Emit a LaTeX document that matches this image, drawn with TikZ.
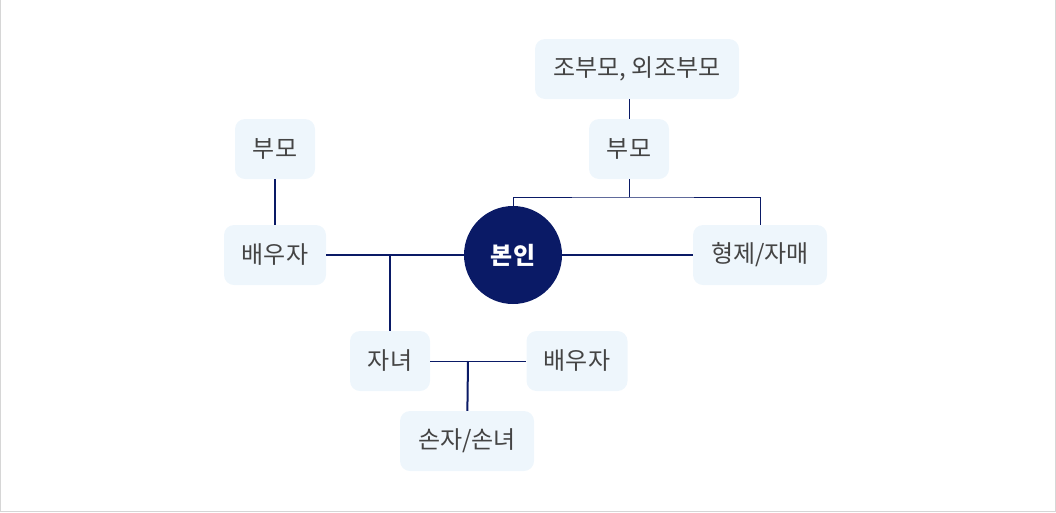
\documentclass[tikz,border=0pt]{standalone}
\usepackage{fontspec}
\setmainfont{Noto Sans CJK KR}
\usepackage{tikz}
\usetikzlibrary{positioning, calc}

\definecolor{navy}{RGB}{10,26,102}
\definecolor{boxfill}{RGB}{238,246,252}
\definecolor{textgray}{RGB}{68,68,68}
\definecolor{framegray}{RGB}{214,214,214}

\begin{document}
\begin{tikzpicture}[
    x=1pt, y=-1pt,
    member/.style={rectangle, rounded corners=10pt, fill=boxfill, minimum height=60pt, inner xsep=0pt, text=textgray, font=\fontsize{24}{28}\selectfont},
    self/.style={circle, fill=navy, minimum size=98pt, text=white, font=\fontsize{24}{28}\selectfont\bfseries},
    link/.style={draw=navy, line width=1pt},
    tie/.style={draw=navy, line width=2pt},
]
\useasboundingbox (0,0) rectangle (1056,512);
\draw[framegray, line width=1pt] (0.5,0) -- (0.5,511.5) -- (1055.5,511.5) -- (1055.5,0);

% Self
\node[self] (me) at (513,255) {본인};

% Own side: parents, grandparents, siblings
\node[member, minimum width=204pt] (grandpar) at (637,69) {조부모, 외조부모};
\node[member, minimum width=80pt] (parR) at (629,149) {부모};
\node[member, minimum width=134pt] (sibling) at (760,255) {형제/자매};

% Spouse side
\node[member, minimum width=80pt] (parL) at (275,149) {부모};
\node[member, minimum width=102pt] (spouse) at (275,255) {배우자};

% Children and grandchildren
\node[member, minimum width=80pt] (child) at (390,361) {자녀};
\node[member, minimum width=101pt] (cspouse) at (577,361) {배우자};
\node[member, minimum width=134pt] (grandch) at (467,441) {손자/손녀};

% Junctions
\coordinate (bar) at (629,197);
\coordinate (jchild) at (390,255);
\coordinate (jgrand) at (468,361);

% Connectors
\draw[link] (grandpar.south -| parR) -- (parR);
\draw[link] (parR) -- (bar);
\draw[link] (me) |- (bar) -| (sibling);
\draw[tie] (me) -- (sibling);
\draw[tie] (parL) -- (spouse);
\draw[tie] (spouse) -- (me);
\draw[tie] (jchild) -- (child);
\draw[link] (child) -- (cspouse);
\draw[tie] (jgrand) -- (grandch);
\end{tikzpicture}
\end{document}
